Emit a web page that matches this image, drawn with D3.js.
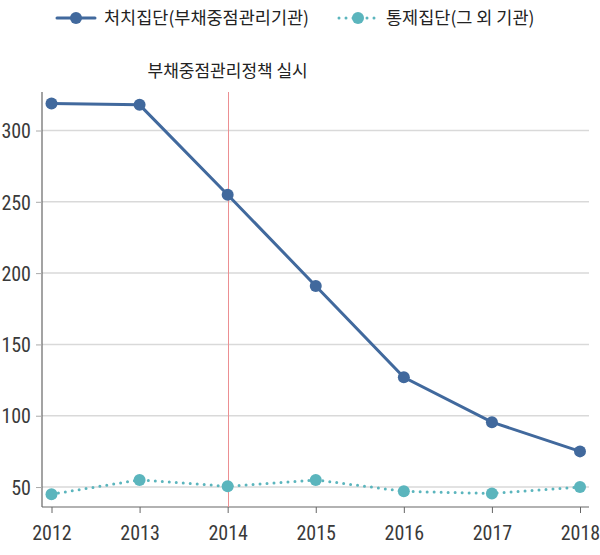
<!DOCTYPE html>
<meta charset="utf-8">
<script src="https://d3js.org/d3.v7.min.js"></script>
<style>
    body { margin: 0; background: #fff; }
    .tick text {
        font-family: 'Liberation Sans Narrow', 'Roboto', sans-serif;
        font-stretch: condensed;
        font-size: 20px;
        fill: #3a3a3a;
    }
    .label {
        font-family: 'Noto Sans CJK KR', sans-serif;
        font-size: 17px;
        fill: #222;
    }
</style>
<div id="chart"></div>
<script>
    // data
    let years = [2012, 2013, 2014, 2015, 2016, 2017, 2018];
    let treated = [319, 318, 255, 191, 127, 95.5, 75];
    let control = [45, 55, 50.5, 55, 47, 45.5, 50];
    let yTicks = [50, 100, 150, 200, 250, 300];
    let policyYear = 2014;
    let names = ["처치집단(부채중점관리기관)", "통제집단(그 외 기관)"];

    let width = 600, height = 555;
    let margin = {top: 92, right: 11, bottom: 48, left: 42};

    let svg = d3.select("#chart").append("svg")
        .attr("width", width)
        .attr("height", height);

    let x = d3.scalePoint()
        .domain(years)
        .range([51.5, 580]);

    let y = d3.scaleLinear()
        .domain([36, 327])
        .range([height - margin.bottom, margin.top]);

    // gridlines
    svg.append("g")
        .selectAll("line")
        .data(yTicks)
        .enter()
        .append("line")
        .attr("x1", margin.left)
        .attr("x2", width - margin.right)
        .attr("y1", d => y(d))
        .attr("y2", d => y(d))
        .attr("stroke", "#d9d9d9")
        .attr("stroke-width", 1.5);

    // axes
    let yAxis = svg.append("g")
        .attr("transform", "translate(" + margin.left + ",0)")
        .call(d3.axisLeft(y).tickValues(yTicks).tickSize(6).tickPadding(5));
    yAxis.select(".domain")
        .attr("d", "M0," + margin.top + "V" + (height - margin.bottom))
        .attr("stroke", "#666").attr("stroke-width", 1.2);
    yAxis.selectAll(".tick line").attr("stroke", "#aaa");
    yAxis.selectAll(".tick text").attr("dy", "0.36em");

    let xAxis = svg.append("g")
        .attr("transform", "translate(0," + (height - margin.bottom) + ")")
        .call(d3.axisBottom(x).tickSize(6).tickPadding(13).tickFormat(d3.format("d")));
    xAxis.select(".domain")
        .attr("d", "M" + margin.left + ",0H" + (width - margin.right))
        .attr("stroke", "#666").attr("stroke-width", 1.2);
    xAxis.selectAll(".tick line").attr("stroke", "#666");

    // policy line
    let px = Math.round(x(policyYear)) + 0.5;
    svg.append("line")
        .attr("x1", px).attr("x2", px)
        .attr("y1", margin.top).attr("y2", height - margin.bottom)
        .attr("stroke", "#ec8f92")
        .attr("stroke-width", 1);

    svg.append("text")
        .attr("class", "label")
        .attr("x", x(policyYear))
        .attr("y", 77)
        .attr("text-anchor", "middle")
        .text("부채중점관리정책 실시");

    let line = d3.line()
        .x((d, i) => x(years[i]))
        .y(d => y(d));

    let blue = "#41699d", teal = "#5bb5bd";

    svg.append("path")
        .datum(control)
        .attr("d", line)
        .attr("fill", "none")
        .attr("stroke", teal)
        .attr("stroke-width", 3)
        .attr("stroke-linecap", "round")
        .attr("stroke-dasharray", "0,7");

    svg.append("g").selectAll("circle")
        .data(control)
        .enter()
        .append("circle")
        .attr("cx", (d, i) => x(years[i]))
        .attr("cy", d => y(d))
        .attr("r", 6)
        .attr("fill", teal);

    svg.append("path")
        .datum(treated)
        .attr("d", line)
        .attr("fill", "none")
        .attr("stroke", blue)
        .attr("stroke-width", 3);

    svg.append("g").selectAll("circle")
        .data(treated)
        .enter()
        .append("circle")
        .attr("cx", (d, i) => x(years[i]))
        .attr("cy", d => y(d))
        .attr("r", 6)
        .attr("fill", blue);

    // legend
    let legend = [
        {x: 57, color: blue, dash: null, name: names[0]},
        {x: 339, color: teal, dash: "0,7", name: names[1]}
    ];
    legend.forEach(function (l) {
        svg.append("line")
            .attr("x1", l.x).attr("x2", l.x + 38)
            .attr("y1", 18).attr("y2", 18)
            .attr("stroke", l.color)
            .attr("stroke-width", 3)
            .attr("stroke-linecap", "round")
            .attr("stroke-dasharray", l.dash);
        svg.append("circle")
            .attr("cx", l.x + 19).attr("cy", 18).attr("r", 6)
            .attr("fill", l.color);
        svg.append("text")
            .attr("class", "label")
            .attr("x", l.x + 47)
            .attr("y", 24)
            .style("font-size", "17.5px")
            .text(l.name);
    });
</script>
